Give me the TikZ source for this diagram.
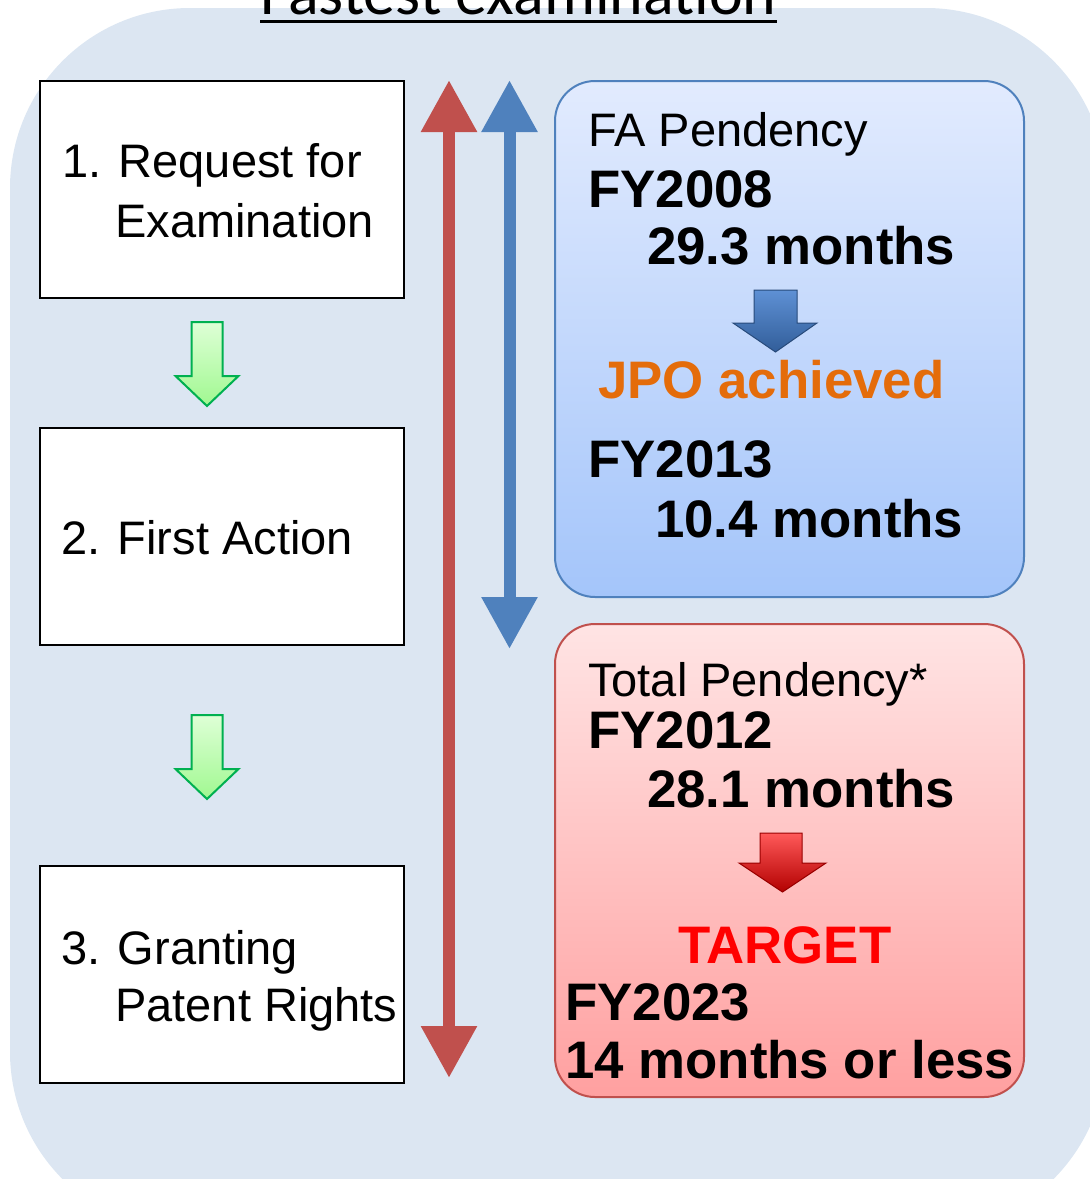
\documentclass[tikz,border=0pt]{standalone}
\usepackage{fontspec}
\setmainfont{Liberation Sans}
\newfontfamily\titlefont{Carlito}
\usepackage{xcolor}
\usepackage{tikz}
\usetikzlibrary{arrows.meta, positioning}
\definecolor{bgblue}{RGB}{220, 230, 242}
\definecolor{faline}{RGB}{79, 129, 189}
\definecolor{totalline}{RGB}{192, 80, 77}
\definecolor{fatop}{RGB}{226, 235, 254}
\definecolor{fabottom}{RGB}{164, 197, 250}
\definecolor{totaltop}{RGB}{255, 228, 228}
\definecolor{totalbottom}{RGB}{255, 160, 160}
\definecolor{greenline}{RGB}{0, 176, 80}
\definecolor{greentop}{RGB}{222, 255, 214}
\definecolor{greenbottom}{RGB}{160, 248, 144}
\definecolor{achieved}{RGB}{228, 108, 10}
\definecolor{dropblue}{RGB}{66, 125, 205}
\tikzstyle{stepbox} = [rectangle, draw=black, line width=2pt, fill=white, minimum width=364pt, minimum height=217pt]
\tikzstyle{pendbox} = [rectangle, rounded corners=40pt, line width=2pt, minimum width=469pt]
\tikzstyle{normaltext} = [anchor=base west, inner sep=0pt, font=\fontsize{47}{55}\selectfont]
\tikzstyle{boldtext} = [anchor=base west, inner sep=0pt, font=\fontsize{52.8}{60}\selectfont\bfseries]
\tikzstyle{flowarrow} = [draw=greenline, line width=2pt, top color=greentop, bottom color=greenbottom]
\tikzstyle{spanarrow} = [line width=12pt, {Triangle[length=52pt,width=53pt]}-{Triangle[length=52pt,width=53pt]}]

\begin{document}
\begin{tikzpicture}[x=1pt, y=-1pt]
    \useasboundingbox (0, 0) rectangle (1090, 1179);
    \clip (0, 0) rectangle (1090, 1179);

    % Background and title
    \fill[bgblue, rounded corners=180pt] (10, 8) rectangle (1106, 1232);
    \node[anchor=base, inner sep=0pt, font=\titlefont\fontsize{64}{70}\selectfont] (title) at (518.5, 14) {Fastest examination};
    \draw[line width=3pt] ([yshift=-7.5pt]title.base west) -- ([yshift=-7.5pt]title.base east);

    % Steps
    \node[stepbox] (request) at (222, 189) {};
    \node[stepbox] (action) at (222, 536.5) {};
    \node[stepbox] (grant) at (222, 974.5) {};
    \node[normaltext] (requestA) at (62, 177) {1. Request for};
    \node[normaltext] (requestB) at (115, 237) {Examination};
    \node[normaltext] (actionA) at (61, 554) {2. First Action};
    \node[normaltext] (grantA) at (61, 964) {3. Granting};
    \node[normaltext] (grantB) at (115, 1021) {Patent Rights};

    % Flow arrows
    \draw[flowarrow] (191.5, 322) -- (222.5, 322) -- (222.5, 376) -- (238.5, 376) -- (207, 406) -- (175.5, 376) -- (191.5, 376) -- cycle;
    \draw[flowarrow] (191.5, 715) -- (222.5, 715) -- (222.5, 769) -- (238.5, 769) -- (207, 799) -- (175.5, 769) -- (191.5, 769) -- cycle;

    % Pendency spans
    \coordinate (totalTop) at (449, 80);
    \coordinate (totalEnd) at (449, 1078);
    \coordinate (faTop) at (509.5, 80);
    \coordinate (faEnd) at (509.5, 649);
    \draw[spanarrow, totalline] (totalTop) -- (totalEnd);
    \draw[spanarrow, faline] (faTop) -- (faEnd);

    % FA pendency
    \node[pendbox, draw=faline, top color=fatop, bottom color=fabottom, minimum height=516pt] (fabox) at (789.5, 339) {};
    \node[normaltext] (faTitle) at (588, 146) {FA Pendency};
    \node[boldtext] (faOld) at (588, 207) {FY2008};
    \node[boldtext] (faOldVal) at (647, 264) {29.3 months};
    \draw[draw=dropblue!60!black, line width=1pt, top color=dropblue!85!white, bottom color=dropblue!75!black]
        (754, 290) -- (797, 290) -- (797, 323) -- (817, 323) -- (775.5, 352) -- (733, 323) -- (754, 323) -- cycle;
    \node[boldtext, text=achieved] (faDone) at (598, 398) {JPO achieved};
    \node[boldtext] (faNew) at (588, 477) {FY2013};
    \node[boldtext] (faNewVal) at (655, 537) {10.4 months};

    % Total pendency
    \node[pendbox, draw=totalline, top color=totaltop, bottom color=totalbottom, minimum height=473pt] (totalbox) at (789.5, 860.5) {};
    \node[normaltext] (totalTitle) at (588, 696) {Total Pendency*};
    \node[boldtext] (totalOld) at (588, 748) {FY2012};
    \node[boldtext] (totalOldVal) at (647, 807) {28.1 months};
    \draw[draw=red!60!black, line width=1pt, top color=red!65!white, bottom color=red!70!black]
        (760, 833) -- (802, 833) -- (802, 863) -- (826, 863) -- (782.5, 892) -- (739, 863) -- (760, 863) -- cycle;
    \node[boldtext, text=red] (target) at (678, 963) {TARGET};
    \node[boldtext] (totalNew) at (565, 1020) {FY2023};
    \node[boldtext] (totalNewVal) at (565, 1078) {14 months or less};
\end{tikzpicture}
\end{document}
